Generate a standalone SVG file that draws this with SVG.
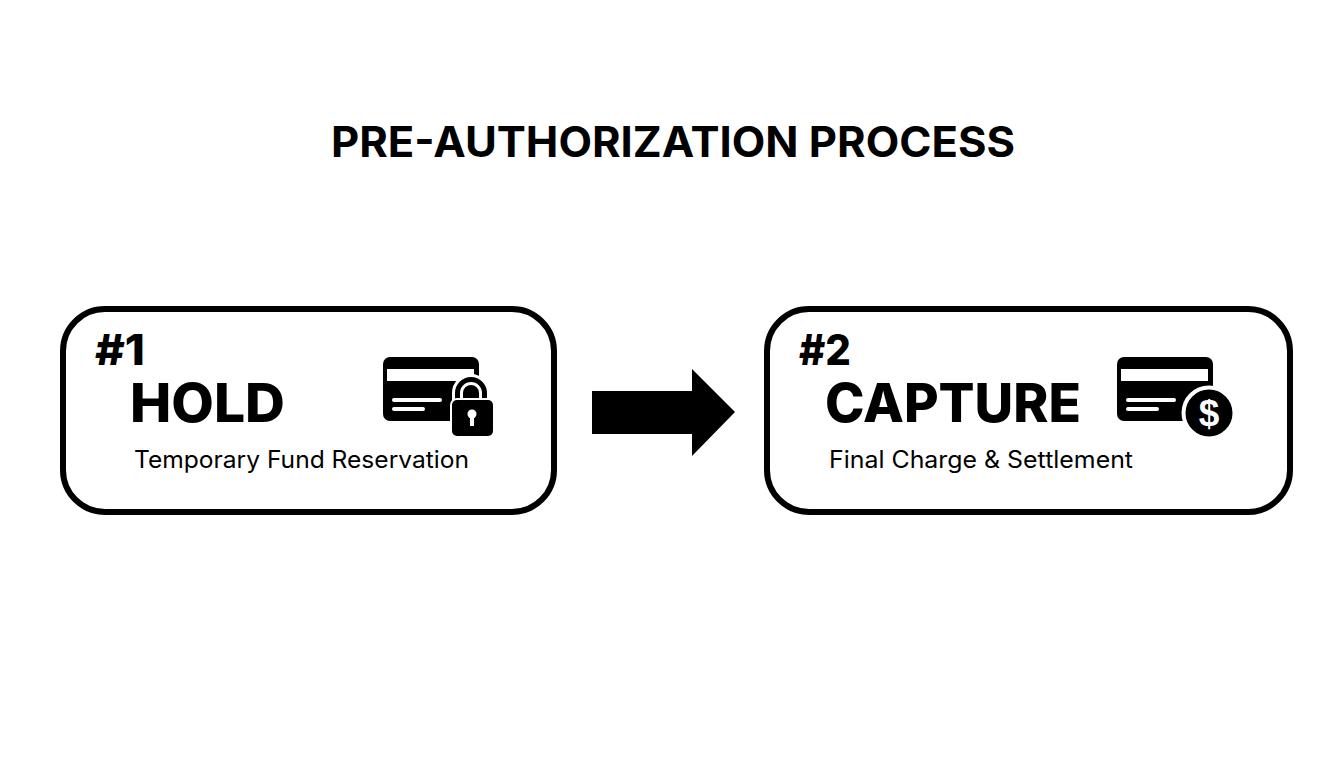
<svg xmlns="http://www.w3.org/2000/svg" width="1344" height="768" viewBox="0 0 1344 768">
<style>
text{font-family:Inter,"Noto Sans","Liberation Sans",sans-serif;fill:#000}
.box{fill:#fff;stroke:#000;stroke-width:6}
.title{font-size:42px;font-weight:700}
.num{font-size:42px;font-weight:800}
.head{font-size:53px;font-weight:800}
.sub{font-size:24px;font-weight:400}
.dollar{font-family:"Liberation Sans",Arial,sans-serif;font-size:37px;font-weight:700;fill:#fff}
.ink{fill:#000}
.wh{fill:#fff}
</style>
<defs>
<g id="card">
<rect x="0" y="0" width="96" height="64" rx="7" class="ink"/>
<rect x="4" y="12" width="87" height="12" class="wh"/>
<rect x="9" y="41" width="50" height="4" rx="2" class="wh"/>
<rect x="9" y="50" width="33" height="4" rx="2" class="wh"/>
</g>
</defs>
<rect width="1344" height="768" fill="#fff"/>
<text id="title" class="title" x="331" y="157" textLength="684" lengthAdjust="spacingAndGlyphs">PRE-AUTHORIZATION PROCESS</text>
<g id="connectors">
<path class="ink" d="M592 391H692V369L735 412L692 456V434H592Z"/>
</g>
<g id="node-hold">
<rect class="box" x="63" y="309" width="491" height="203" rx="42"/>
<text class="num" x="95" y="365" textLength="50" lengthAdjust="spacingAndGlyphs">#1</text>
<text class="head" x="130" y="422" textLength="155" lengthAdjust="spacingAndGlyphs">HOLD</text>
<text class="sub" x="134" y="468" textLength="335" lengthAdjust="spacingAndGlyphs">Temporary Fund Reservation</text>
<use href="#card" x="383" y="357"/>
<path d="M457.500 404V393a13.500 13.500 0 0 1 27 0V404" fill="none" stroke="#fff" stroke-width="11"/>
<path d="M457.500 404V393a13.500 13.500 0 0 1 27 0V404" fill="none" stroke="#000" stroke-width="5"/>
<rect x="450" y="398" width="45" height="40" rx="7" class="wh"/>
<rect x="452" y="400" width="41" height="36" rx="5" class="ink"/>
<circle cx="472" cy="414" r="4.500" class="wh"/>
<rect x="470" y="415" width="4" height="11" class="wh"/>
</g>
<g id="node-capture">
<rect class="box" x="767" y="309" width="523" height="203" rx="42"/>
<text class="num" x="799" y="365" textLength="52" lengthAdjust="spacingAndGlyphs">#2</text>
<text class="head" x="825" y="422" textLength="256" lengthAdjust="spacingAndGlyphs">CAPTURE</text>
<text class="sub" x="829" y="468" textLength="304" lengthAdjust="spacingAndGlyphs">Final Charge &amp; Settlement</text>
<use href="#card" x="1117" y="357"/>
<circle cx="1209" cy="413" r="25.500" class="ink" stroke="#fff" stroke-width="4"/>
<text class="dollar" x="1209" y="426" text-anchor="middle">$</text>
</g>
</svg>
